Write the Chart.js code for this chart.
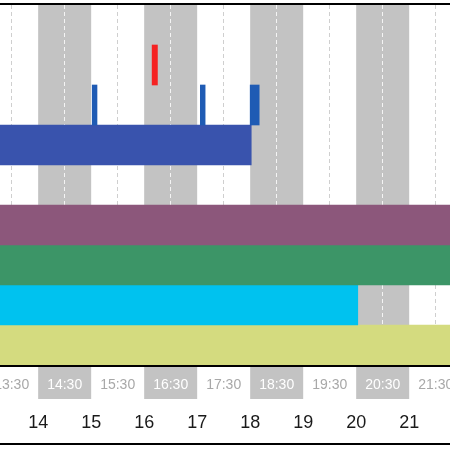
<!DOCTYPE html>
<html>
<head>
<meta charset="utf-8">
<script src="https://cdn.jsdelivr.net/npm/chart.js@4"></script>
<style>
  html, body { margin: 0; padding: 0; background: #fff; }
  #wrap { width: 450px; height: 450px; }
</style>
</head>
<body>
<div id="wrap"><canvas id="timeline" width="450" height="450"></canvas></div>
<script>
// rows of the timeline, top to bottom
const rows = ['r0', 'alarm', 'events', 'run', 'r4', 'a', 'b', 'c', 'd'];

// hours shown on the axis
const hourTicks = [14, 15, 16, 17, 18, 19, 20, 21];
const halfHourTicks = [13.5, 14.5, 15.5, 16.5, 17.5, 18.5, 19.5, 20.5, 21.5];
const halfHourLabels = ['13:30', '14:30', '15:30', '16:30', '17:30', '18:30', '19:30', '20:30', '21:30'];
const viewRange = [13.28, 21.77];

// shaded hour bands
const shadedBands = [[14, 15], [16, 17], [18, 19], [20, 21]];

// bars: [start hour, end hour]
const alarmTick = [16.15, 16.25];
const eventTicks = [[15.02, 15.11], [17.06, 17.15], [18.0, 18.17]];
const runBar = [13.0, 18.02];
const barA = [13.0, 22.0];
const barB = [13.0, 22.0];
const barC = [13.0, 20.03];
const barD = [13.0, 22.0];

function rowData(rowName, value) {
  return rows.map(r => (r === rowName ? value : null));
}

const datasets = [
  { data: rowData('alarm', alarmTick), backgroundColor: '#f52222' },
  ...eventTicks.map(t => ({ data: rowData('events', t), backgroundColor: '#1f5bb4' })),
  { data: rowData('run', runBar), backgroundColor: '#3953ad' },
  { data: rowData('a', barA), backgroundColor: '#8c577b' },
  { data: rowData('b', barB), backgroundColor: '#3c9567' },
  { data: rowData('c', barC), backgroundColor: '#00c2ef' },
  { data: rowData('d', barD), backgroundColor: '#d4db7f' },
].map(ds => ({ ...ds, grouped: false, barPercentage: 1, categoryPercentage: 1, borderWidth: 0 }));

const isShadedHalf = v => shadedBands.some(b => v > b[0] && v < b[1]);

// grey bands behind everything, black rules on top
const bandsPlugin = {
  id: 'bands',
  beforeDraw(chart) {
    const { ctx, chartArea } = chart;
    const x = chart.scales.x;
    ctx.save();
    ctx.fillStyle = '#c3c3c3';
    shadedBands.forEach(b => {
      const x0 = x.getPixelForValue(b[0]);
      const x1 = x.getPixelForValue(b[1]);
      ctx.fillRect(x0, chartArea.top, x1 - x0, chartArea.bottom - chartArea.top);
      ctx.fillRect(x0, x.top + 2, x1 - x0, x.bottom - x.top - 3);
    });
    ctx.restore();
  },
  afterDraw(chart) {
    const { ctx, chartArea } = chart;
    const x2 = chart.scales.x2;
    ctx.save();
    ctx.fillStyle = '#000';
    ctx.fillRect(0, chartArea.top - 2, chart.width, 2);
    ctx.fillRect(0, chartArea.bottom, chart.width, 2);
    ctx.fillRect(0, x2.bottom, chart.width, 2);
    ctx.restore();
  }
};

new Chart(document.getElementById('timeline'), {
  type: 'bar',
  data: { labels: rows, datasets: datasets },
  options: {
    indexAxis: 'y',
    responsive: false,
    animation: false,
    layout: { padding: { top: 5, bottom: 7, left: 0, right: 0 } },
    plugins: { legend: { display: false }, tooltip: { enabled: false } },
    scales: {
      y: { display: false },
      x: {
        type: 'linear',
        position: 'bottom',
        weight: 1,
        min: viewRange[0],
        max: viewRange[1],
        afterBuildTicks: s => { s.ticks = halfHourTicks.map(v => ({ value: v })); },
        afterFit: s => { s.height = 35; s.paddingLeft = 0; s.paddingRight = 0; },
        border: { display: false, dash: [4, 3] },
        grid: {
          drawTicks: false,
          color: c => (isShadedHalf(c.tick.value) ? '#f4f4f4' : '#cfcfcf'),
          lineWidth: 1
        },
        ticks: {
          autoSkip: false,
          maxRotation: 0,
          padding: 12,
          font: { family: 'Liberation Sans', size: 14 },
          color: c => (isShadedHalf(c.tick.value) ? '#ffffff' : '#a8a8a8'),
          callback: v => halfHourLabels[halfHourTicks.indexOf(v)]
        }
      },
      x2: {
        type: 'linear',
        position: 'bottom',
        weight: 2,
        min: viewRange[0],
        max: viewRange[1],
        afterBuildTicks: s => { s.ticks = hourTicks.map(v => ({ value: v })); },
        afterFit: s => { s.height = 43; s.paddingLeft = 0; s.paddingRight = 0; },
        border: { display: false },
        grid: { display: false },
        ticks: {
          autoSkip: false,
          maxRotation: 0,
          padding: 4,
          font: { family: 'Liberation Sans', size: 18 },
          color: '#1a1a1a',
          callback: v => String(v)
        }
      }
    }
  },
  plugins: [bandsPlugin]
});
</script>
</body>
</html>
